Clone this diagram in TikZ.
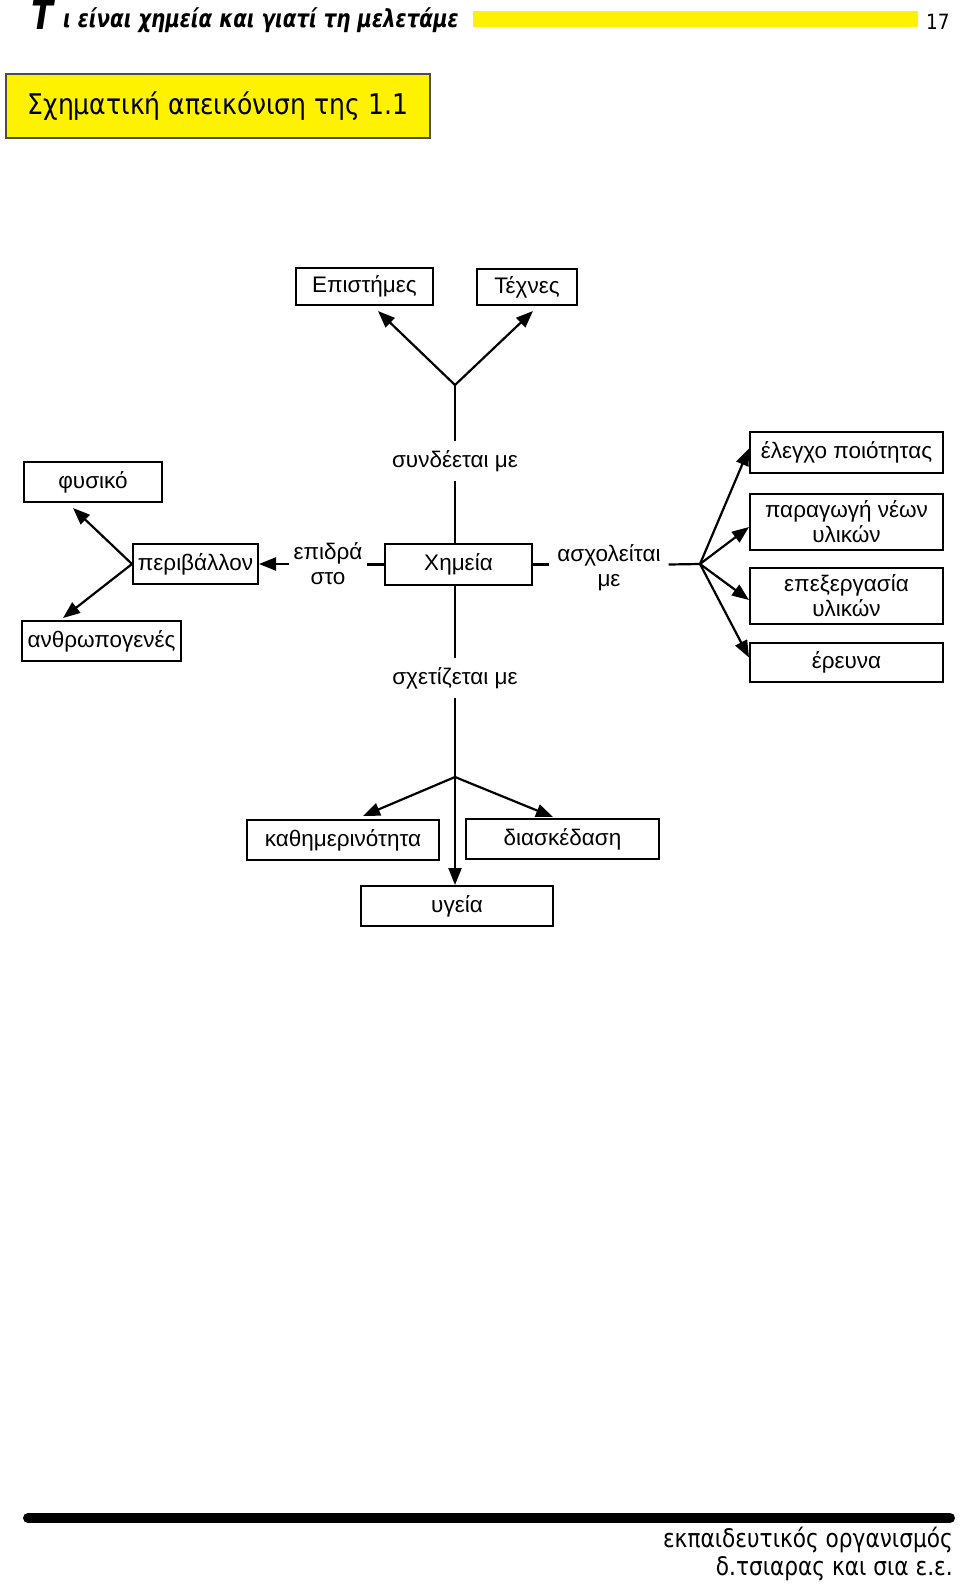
\documentclass[tikz,border=0pt]{standalone}
\usepackage{fontspec}
\setmainfont{Liberation Sans}
\newfontfamily\condfont{DejaVu Sans}[FakeStretch=0.88]
\newfontfamily\titlefont{DejaVu Sans}[FakeStretch=0.8]
\newfontfamily\footfont{DejaVu Sans}[FakeStretch=0.85]
\usetikzlibrary{arrows.meta,calc}
\begin{document}
\begin{tikzpicture}[x=1pt,y=-1pt,
  box/.style={draw,line width=2pt,minimum height=40pt,inner sep=0pt,font=\fontsize{22.5}{25}\selectfont,align=center},
  lbl/.style={inner xsep=6pt,inner ysep=9pt,font=\fontsize{22.5}{25}\selectfont,align=center},
  con/.style={line width=2.2pt},
  arr/.style={line width=2.2pt,-{Triangle[length=17pt,width=13pt]}},
  hdr/.style={anchor=base west,inner sep=0pt},
]
\useasboundingbox (0,0) rectangle (960,1595);

% header
\fill[yellow] (473,11) rectangle (918,27);
\node[hdr,font=\titlefont\bfseries\itshape\fontsize{40}{40}\selectfont] (t1) at (31,30) {Τ};
\node[hdr,font=\titlefont\bfseries\itshape\fontsize{24.8}{24.8}\selectfont] (t2) at (63,28) {ι είναι χημεία και γιατί τη μελετάμε};
\node[hdr,font=\condfont\fontsize{21}{21}\selectfont] (pg) at (926,30) {17};
\node[draw=black!70,line width=1.2pt,fill=yellow,minimum width=424pt,minimum height=64pt,inner sep=0pt,
      font=\condfont\fontsize{28.5}{28.5}\selectfont] (sx) at (218,106) {Σχηματική απεικόνιση της 1.1};

% nodes
\node[box,minimum width=137pt,minimum height=37pt] (epist) at (364.5,286.5) {Επιστήμες};
\node[box,minimum width=100pt,minimum height=36pt] (techn) at (527,287) {Τέχνες};
\coordinate (J1) at (455,385);
\node[lbl] (syn) at (455,461) {συνδέεται με};
\node[box,minimum width=147pt,minimum height=41pt] (chem) at (458.5,564.5) {Χημεία};
\node[box,minimum width=125pt] (periv) at (195.5,564) {περιβάλλον};
\node[box,minimum width=138pt] (fys) at (93,482) {φυσικό};
\node[box,minimum width=159pt] (anthr) at (101.5,641) {ανθρωπογενές};
\node[lbl,inner xsep=4pt] (epi) at (328,564) {επιδρά\\στο};
\node[lbl,inner xsep=8pt] (asx) at (609,568) {ασχολείται\\με};
\coordinate (F) at (700,564);
\node[box,minimum width=193pt,minimum height=41pt] (eleg) at (846.5,452.5) {έλεγχο ποιότητας};
\node[box,minimum width=193pt,minimum height=56pt] (parag) at (846.5,522) {παραγωγή νέων\\υλικών};
\node[box,minimum width=193pt,minimum height=56pt] (epex) at (846.5,596) {επεξεργασία\\υλικών};
\node[box,minimum width=193pt,minimum height=39pt] (erev) at (846.5,662.5) {έρευνα};
\node[lbl] (sxe) at (455,678) {σχετίζεται με};
\coordinate (J2) at (455,777);
\node[box,minimum width=192pt] (kath) at (343,840) {καθημερινότητα};
\node[box,minimum width=193pt] (diask) at (562.5,839) {διασκέδαση};
\node[box,minimum width=192pt] (ygeia) at (457,906) {υγεία};

% connectors
\draw[arr] (J1) -- ($(epist.south)+(13.5,5)$);
\draw[arr] (J1) -- ($(techn.south)+(6,5)$);
\draw[con] (J1) -- (syn);
\draw[con] (syn) -- (syn |- chem.north);
\draw[con] (chem.west) -- (epi.east |- chem.west);
\draw[arr] (epi.west |- periv.east) -- (periv.east);
\draw[arr] (periv.west) -- ($(fys.south)+(-20,5)$);
\draw[arr] (periv.west) -- ($(anthr.north)+(-38.5,-2)$);
\draw[con] (chem.east) -- (asx.west |- chem.east);
\draw[con] (asx.east |- chem.east) -- (F);
\draw[arr] (F) -- ($(eleg.west)+(0,-4)$);
\draw[arr] (F) -- ($(parag.west)+(0,5)$);
\draw[arr] (F) -- ($(epex.west)+(0,4)$);
\draw[arr] (F) -- ($(erev.west)+(0,-5)$);
\draw[con] (sxe.north |- chem.south) -- (sxe);
\draw[con] (sxe) -- (J2);
\draw[arr] (J2) -- ($(kath.north)+(20,-3)$);
\draw[arr] (J2) -- ($(diask.north)+(-9.5,-1)$);
\draw[arr] (J2) -- (J2 |- ygeia.north);

% footer
\draw[line width=10pt,line cap=round] (28,1518) -- (950,1518);
\node[anchor=base east,inner sep=0pt,font=\footfont\fontsize{25.5}{25.5}\selectfont] (f1) at (953,1547) {εκπαιδευτικός οργανισμός};
\node[anchor=base east,inner sep=0pt,font=\footfont\fontsize{25.5}{25.5}\selectfont] (f2) at (953,1575) {δ.τσιαρας και σια ε.ε.};
\end{tikzpicture}
\end{document}
